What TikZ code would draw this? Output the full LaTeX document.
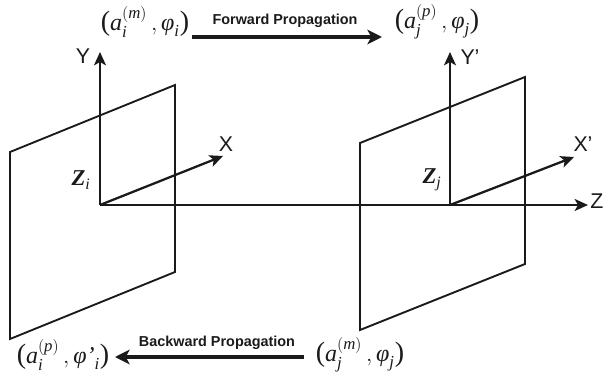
\documentclass[tikz,border=0pt]{standalone}
\usepackage{amsmath,amssymb}
\usepackage{fontspec}
\setmainfont{Liberation Serif}
\setsansfont{Liberation Sans}
\usetikzlibrary{calc,arrows.meta,positioning}
\definecolor{tinta}{HTML}{1A1A1A}
\newcommand{\ital}[1]{\text{\itshape #1}}
\newcommand{\parn}[1]{\text{\fontsize{21}{21}\selectfont #1}}
\newcommand{\campoval}[4]{\parn{(}\ital{a}_{\ital{#1}}^{(\ital{#2})}\,,\ital{φ#3}_{\ital{#4}}\parn{)}}
\tikzset{
  plano/.style={tinta,line width=1.4pt,line join=miter},
  eje/.style={tinta,line width=1.7pt,-{Stealth[length=10pt,width=9pt,inset=2.5pt]}},
  flecha/.style={tinta,line width=2.6pt,-{Stealth[length=11pt,width=11pt,inset=3pt]}},
  rotulo/.style={tinta,font=\sffamily\fontsize{16}{16}\selectfont,inner sep=0pt},
  prop/.style={tinta,font=\sffamily\bfseries\fontsize{10.8}{11}\selectfont,inner sep=0pt},
  campo/.style={tinta,font=\fontsize{18}{18}\selectfont,inner sep=0pt},
  zeta/.style={tinta,font=\fontsize{17}{17}\selectfont,inner sep=0pt}
}
\begin{document}
\begin{tikzpicture}[x=0.75pt,y=-0.75pt,line cap=butt]
        \useasboundingbox (0,0) rectangle (604,377);
        % planos
        \draw[plano] (10,152) -- (175,85) -- (175,272) -- (10,339) -- cycle;
        \draw[plano] (360,143) -- (525,77) -- (525,264) -- (360,330) -- cycle;
        % ejes
        \coordinate (Oi) at (100,205);
        \coordinate (Oj) at (450,205);
        \coordinate (Yi) at (100,52);
        \coordinate (Xi) at (223,156);
        \coordinate (Yj) at (450,52);
        \coordinate (Xj) at (574,157);
        \coordinate (Zf) at (588,205);
        \draw[eje] (Oi) -- (Yi);
        \draw[eje] (Oi) -- (Xi);
        \draw[eje] (Oj) -- (Yj);
        \draw[eje] (Oj) -- (Xj);
        \draw[eje] (Oi) -- (Zf);
        \node[rotulo] (lblY) at (83,56) {Y};
        \node[rotulo] (lblX) at (226,144) {X};
        \node[rotulo] (lblYp) at (470,57) {Y'};
        \node[rotulo] (lblXp) at (583,144) {X'};
        \node[rotulo] (lblZ) at (597,201) {Z};
        \node[zeta] (lblZi) at (81,180) {\textbf{\itshape Z}$_{\ital{i}}$};
        \node[zeta] (lblZj) at (432,180) {\textbf{\itshape Z}$_{\ital{j}}$};
        % propagacion
        \node[campo] (amI) at (145,22) {$\campoval{i}{m}{}{i}$};
        \node[campo] (apJ) at (437,22) {$\campoval{j}{p}{}{j}$};
        \node[campo] (apI) at (63,355) {$\campoval{i}{p}{'}{i}$};
        \node[campo] (amJ) at (360,355) {$\campoval{j}{m}{}{j}$};
        \coordinate (fwdA) at (192,37);
        \coordinate (fwdB) at (382,37);
        \coordinate (bwdA) at (304,357);
        \coordinate (bwdB) at (115,357);
        \draw[flecha] (fwdA) -- (fwdB);
        \draw[flecha] (bwdA) -- (bwdB);
        \node[prop] (lblF) at (285,21) {Forward Propagation};
        \node[prop] (lblB) at (217,343) {Backward Propagation};
      \end{tikzpicture}
\end{document}
